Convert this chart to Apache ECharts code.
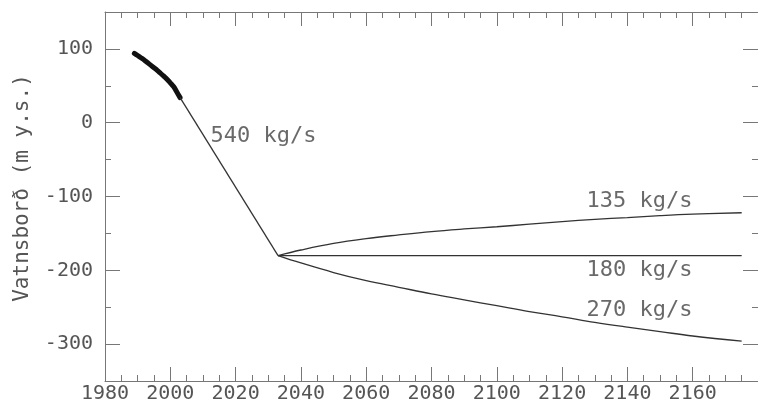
<!DOCTYPE html>
<html><head><meta charset="utf-8">
<script src="https://cdn.jsdelivr.net/npm/echarts@6/dist/echarts.min.js"></script>
<style>html,body{margin:0;padding:0;background:#fff}#c{width:758px;height:409px}</style>
</head><body><div id="c"></div><script>
// Measured water level (historical)
const historyYears  = [1989, 1990, 1991, 1992, 1993, 1994, 1995, 1996, 1997, 1998, 1999, 2000, 2001, 2002, 2003];
const historyLevels = [94, 91, 88, 85, 81.5, 78, 74.5, 71, 67, 63, 59, 54, 49, 41.5, 34];
// 540 kg/s drawdown
const drawdownYears  = [2003, 2033];
const drawdownLevels = [34, -180];
// Scenarios after 2033
const scenarioYears = [2033, 2040, 2050, 2060, 2070, 2080, 2090, 2100, 2110, 2120, 2130, 2140, 2150, 2160, 2175];
const flow135 = [-180, -172.5, -163.5, -157, -152, -147.5, -144, -141, -137.5, -134, -131, -128.5, -126, -124, -122];
const flow180 = [-180, -180, -180, -180, -180, -180, -180, -180, -180, -180, -180, -180, -180, -180, -180];
const flow270 = [-180, -190, -203, -214, -223, -232, -240, -248, -256, -263, -270.5, -277, -283, -289, -296];
// Annotation labels (data coordinates)
const labelTexts  = ['540 kg/s', '135 kg/s', '180 kg/s', '270 kg/s'];
const labelYears  = [2012.3, 2127.5, 2127.5, 2127.5];
const labelLevels = [-19, -107, -200, -254];
// Axis ticks
const yMajorTicks = [100, 0, -100, -200, -300];

const zip = (xs, ys) => xs.map((x, i) => [x, ys[i]]);
const FONT = 'DejaVu Sans Mono';
const AX = '#777';
const TXT = '#555';
const LINE = '#333';

const xBase = {
  type: 'value', min: 1980, max: 2180, interval: 20,
  axisLine: {show: true, onZero: false, lineStyle: {color: AX, width: 1}},
  axisTick: {show: true, inside: true, length: 14, lineStyle: {color: AX}},
  minorTick: {show: true, splitNumber: 4, length: 6, lineStyle: {color: AX}},
  splitLine: {show: false}, minorSplitLine: {show: false}
};
const yMajor = (pos, labels) => ({
  type: 'value', min: -350, max: 150, position: pos,
  axisLine: {show: true, onZero: false, lineStyle: {color: AX, width: 1}},
  axisTick: {show: true, inside: true, length: 15, customValues: yMajorTicks, lineStyle: {color: AX}},
  axisLabel: labels ? {show: true, customValues: yMajorTicks, margin: 12, fontFamily: FONT, fontSize: 20, color: TXT,
    formatter: v => String(v)} : {show: false},
  splitLine: {show: false}
});
const yMinor = (pos) => ({
  type: 'value', min: -350, max: 150, interval: 50, position: pos,
  axisLine: {show: false},
  axisTick: {show: true, inside: true, length: 6, lineStyle: {color: AX}},
  axisLabel: {show: false},
  splitLine: {show: false}
});
const lineSeries = (data, extra) => Object.assign({
  type: 'line', data: data, symbol: 'none', xAxisIndex: 0, yAxisIndex: 0,
  lineStyle: {color: LINE, width: 1.3}, silent: true, animation: false
}, extra || {});

const chart = echarts.init(document.getElementById('c'), null, {renderer: 'canvas'});
chart.setOption({
  animation: false,
  backgroundColor: '#fff',
  grid: {left: 105, top: 12, right: -4, bottom: 28, containLabel: false},
  xAxis: [
    Object.assign({}, xBase, {position: 'bottom',
      axisLabel: {show: true, showMaxLabel: false, margin: 3, fontFamily: FONT, fontSize: 20, color: TXT,
        formatter: v => String(v)}}),
    Object.assign({}, xBase, {position: 'top', axisLabel: {show: false}})
  ],
  yAxis: [yMajor('left', true), yMinor('left'), yMajor('right', false), yMinor('right')],
  graphic: [{
    type: 'text', x: 23, y: 188, rotation: Math.PI / 2,
    style: {text: 'Vatnsborð (m y.s.)', font: '21px "DejaVu Sans Mono"', fill: TXT, align: 'center', verticalAlign: 'middle'}
  }],
  series: [
    lineSeries(zip(historyYears, historyLevels), {lineStyle: {color: '#111', width: 5, cap: 'round', join: 'round'}, smooth: 0.3}),
    lineSeries(zip(drawdownYears, drawdownLevels)),
    lineSeries(zip(scenarioYears, flow135), {smooth: 0.4}),
    lineSeries(zip(scenarioYears, flow180)),
    lineSeries(zip(scenarioYears, flow270), {smooth: 0.4}),
    {
      type: 'scatter', xAxisIndex: 0, yAxisIndex: 0, symbolSize: 0, silent: true,
      data: labelTexts.map((t, i) => [labelYears[i], labelLevels[i], t]),
      label: {show: true, position: 'right', distance: 0, formatter: p => p.data[2],
        fontFamily: FONT, fontSize: 22, color: '#444', align: 'left', verticalAlign: 'middle'}
    }
  ]
});
</script></body></html>
